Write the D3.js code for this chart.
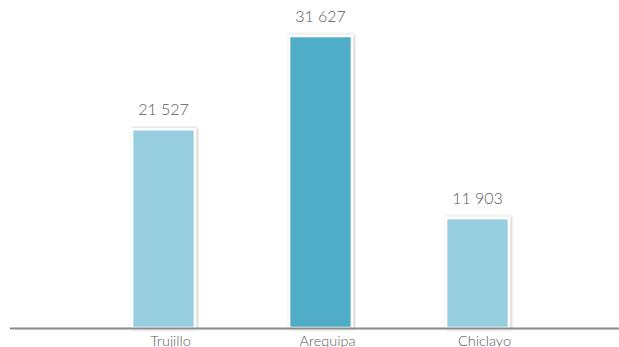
<!DOCTYPE html>
<html><head><meta charset="utf-8">
<script src="https://cdn.jsdelivr.net/npm/d3@7"></script>
<style>html,body{margin:0;padding:0;background:#fff;overflow:hidden}</style>
</head><body>
<svg id="c" width="619" height="347"></svg>
<script>
const categories = ["Trujillo", "Arequipa", "Chiclayo"];
const values = [21527, 31627, 11903];
const valueLabels = ["21 527", "31 627", "11 903"];
const colors = ["#96cee0", "#4fadc8", "#96cee0"];

const svg = d3.select("#c");
const baseY = 328;
const x = d3.scaleBand().domain(categories).range([85, 556]).paddingInner(0.6).paddingOuter(0.3);
const y = d3.scaleLinear().domain([0, 31627]).range([baseY, 36]);

const defs = svg.append("defs");
const f = defs.append("filter").attr("id","sh").attr("x","-20%").attr("y","-5%").attr("width","140%").attr("height","110%");
f.append("feDropShadow").attr("dx",1).attr("dy",0).attr("stdDeviation",1.5).attr("flood-color","#000").attr("flood-opacity",0.3);

const data = categories.map((c,i)=>({c, v: values[i], l: valueLabels[i], col: colors[i]}));

svg.selectAll("rect.bar").data(data).enter().append("rect")
  .attr("class","bar")
  .attr("x", d=>x(d.c))
  .attr("y", d=>y(d.v))
  .attr("width", x.bandwidth())
  .attr("height", d=>baseY - y(d.v))
  .attr("fill", d=>d.col)
  .attr("stroke","#fff").attr("stroke-width",2.5)
  .attr("filter","url(#sh)");

svg.selectAll("text.val").data(data).enter().append("text")
  .attr("class","val")
  .attr("x", d=>x(d.c)+x.bandwidth()/2)
  .attr("y", d=>y(d.v)-14)
  .attr("text-anchor","middle")
  .attr("font-family","Lato, 'Open Sans', sans-serif")
  .attr("font-weight",300)
  .attr("font-size",16)
  .attr("fill","#5a5a5a")
  .text(d=>d.l);

svg.append("line").attr("x1",10).attr("x2",619).attr("y1",baseY+0.5).attr("y2",baseY+0.5)
  .attr("stroke","#8a8a8a").attr("stroke-width",2);

const xAxis = d3.axisBottom(x).tickSize(0).tickPadding(0);
const g = svg.append("g").attr("transform",`translate(0,${baseY})`).call(xAxis);
g.select(".domain").remove();
g.selectAll("text")
  .attr("dy", null).attr("y", 17.5).attr("x", 7)
  .attr("font-family","Lato, 'Open Sans', sans-serif")
  .attr("font-weight",300)
  .attr("font-size",14.5)
  .attr("fill","#5a5a5a");
</script>
</body></html>
